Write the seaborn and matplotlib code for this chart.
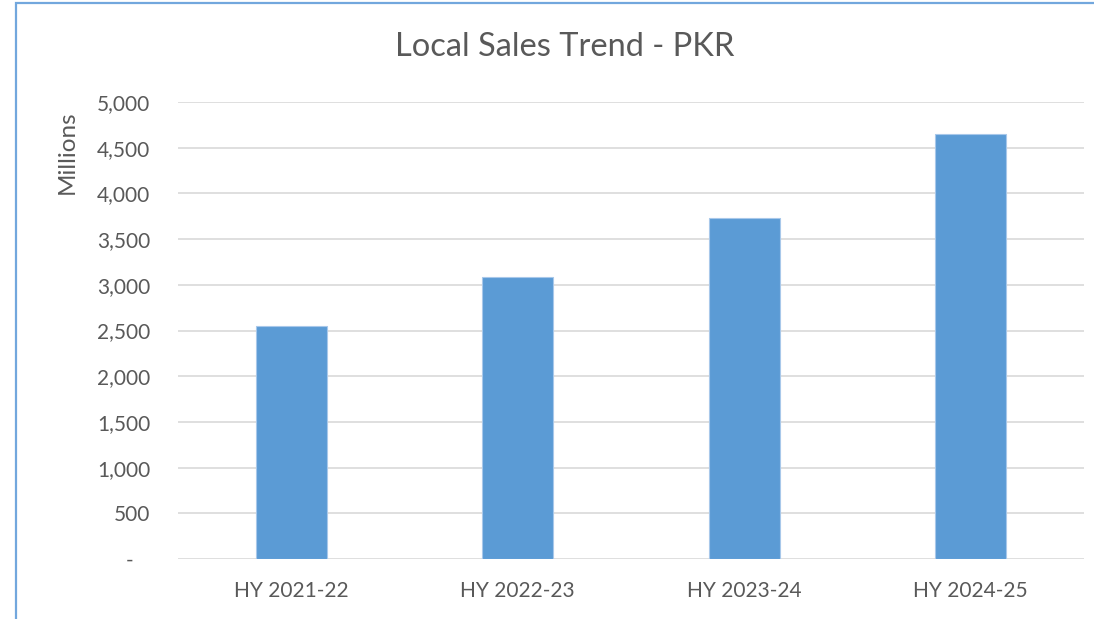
import matplotlib
matplotlib.use("Agg")
import matplotlib.pyplot as plt
import matplotlib.patches as patches
from matplotlib.ticker import FuncFormatter
import seaborn as sns
import pandas as pd

# values (PKR millions)
periods = ["HY 2021-22", "HY 2022-23", "HY 2023-24", "HY 2024-25"]
sales = [2545, 3085, 3728, 4650]
y_ticks = [0, 500, 1000, 1500, 2000, 2500, 3000, 3500, 4000, 4500, 5000]

df = pd.DataFrame({"period": periods, "sales": sales})

sns.set_theme(style="white")
plt.rcParams["font.family"] = ["Lato", "DejaVu Sans"]

fig = plt.figure(figsize=(10.94, 6.19), dpi=100)
ax = fig.add_axes([178 / 1094, 1 - 559 / 619, 906 / 1094, 457 / 619])

sns.barplot(data=df, x="period", y="sales", color="#5B9BD5", saturation=1,
            width=0.313, edgecolor="#A8C8EA", linewidth=0.8, ax=ax, zorder=3)

ax.set_xlim(-0.5, 3.5)
ax.set_ylim(0, 5000)
ax.set_yticks(y_ticks)
# accounting style: zero shown as a dash, set in from the right
ax.yaxis.set_major_formatter(FuncFormatter(lambda v, p: "-\u00a0\u00a0\u00a0" if v == 0 else f"{int(v):,}"))
ax.grid(axis="y", color="#D9D9D9", linewidth=1.2, zorder=0)
ax.set_axisbelow(True)
for s in ax.spines.values():
    s.set_visible(False)
ax.tick_params(axis="both", length=0, labelsize=15, colors="#595959")
ax.tick_params(axis="y", pad=20)
ax.tick_params(axis="x", pad=16)
ax.set_xlabel("")
ax.set_ylabel("")

ax.text((67 - 178) / 906, (559 - 152) / 457, "Millions", rotation=90,
        ha="center", va="center", fontsize=17.5, color="#595959",
        transform=ax.transAxes)

fig.text(565 / 1094, 1 - 47 / 619, "Local Sales Trend - PKR", ha="center",
         va="center", fontsize=23.5, color="#595959")

# chart frame, cut off at the right and bottom
fig.patches.append(patches.Rectangle((16 / 1094, -0.1), 1.2, 1.1 - 3.5 / 619,
                                     transform=fig.transFigure, fill=False,
                                     edgecolor="#72A7DD", linewidth=1.6))

fig.savefig("out.png", dpi=100)
